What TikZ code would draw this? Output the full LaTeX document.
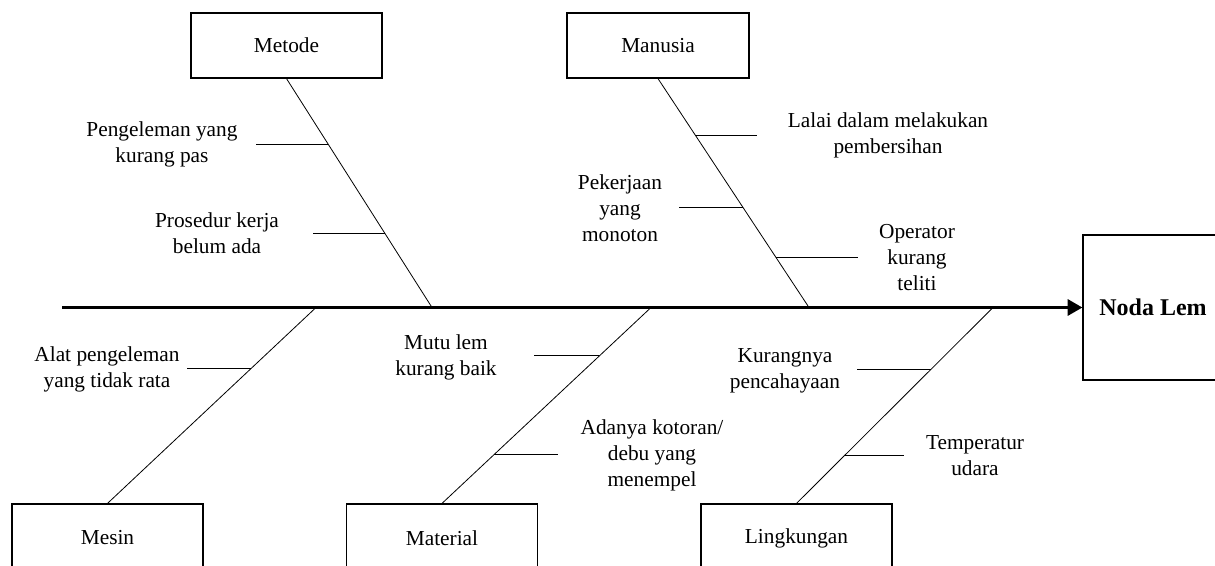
\documentclass[tikz,border=0pt]{standalone}
\usepackage{fontspec}
\setmainfont{Liberation Serif}
\usetikzlibrary{arrows.meta}

\begin{document}
\begin{tikzpicture}[x=0.75pt,y=0.75pt,yscale=-1,xscale=1,
        causebox/.style={draw, line width=0.9pt, minimum width=143.25pt, minimum height=48.75pt, inner sep=0pt, font=\fontsize{16}{19.5}\selectfont},
        note/.style={align=center, inner sep=0pt, font=\fontsize{16}{19.5}\selectfont},
        bone/.style={line width=0.6pt},
        twig/.style={line width=0.75pt}]
        \useasboundingbox (0,0) rectangle (1215,565); %page of 1215 x 565
        
        % Cause boxes
        \node [causebox] (metode) at (286.5,45.5) {Metode};
        \node [causebox, minimum width=136.5pt] (manusia) at (658,45.5) {Manusia};
        \node [causebox, minimum height=51pt] (mesin) at (107.5,538) {Mesin};
        \node [causebox, minimum height=51pt] (material) at (442,538) {Material};
        \node [causebox, minimum height=51pt] (lingkungan) at (796.5,538) {Lingkungan};
        % Effect box
        \node [draw, line width=0.9pt, minimum width=105pt, minimum height=108.75pt, font=\bfseries\fontsize{18}{22}\selectfont] (noda) at (1153,307.5) {Noda Lem};
        
        %Main line
        \coordinate (tail) at (62,307.5);
        \draw [line width=2.2pt, -{Triangle[length=11pt,width=12pt]}] (tail) -- (noda.west);
        
        % Spine ends on the main line
        \coordinate (jmet) at (432,307.5);
        \coordinate (jman) at (809,307.5);
        \coordinate (jmes) at (316,307.5);
        \coordinate (jmat) at (651,307.5);
        \coordinate (jlin) at (993,307.5);
        
        %Straight Lines
        \draw [bone] (metode.south) -- (jmet) coordinate[pos=0.288] (met1) coordinate[pos=0.675] (met2);
        \draw [bone] (manusia.south) -- (jman) coordinate[pos=0.248] (man1) coordinate[pos=0.562] (man2) coordinate[pos=0.78] (man3);
        \draw [bone] (mesin.north) -- (jmes) coordinate[pos=0.687] (mes1);
        \draw [bone] (material.north) -- (jmat) coordinate[pos=0.753] (mat1) coordinate[pos=0.249] (mat2);
        \draw [bone] (lingkungan.north) -- (jlin) coordinate[pos=0.682] (lin1) coordinate[pos=0.244] (lin2);
        
        %Sub causes
        \draw [twig] (met1) -- ++(-72,0) coordinate (met1e);
        \draw [twig] (met2) -- ++(-72,0) coordinate (met2e);
        \draw [twig] (man1) -- ++(62,0) coordinate (man1e);
        \draw [twig] (man2) -- ++(-64,0) coordinate (man2e);
        \draw [twig] (man3) -- ++(82,0) coordinate (man3e);
        \draw [twig] (mes1) -- ++(-64,0) coordinate (mes1e);
        \draw [twig] (mat1) -- ++(-65,0) coordinate (mat1e);
        \draw [twig] (mat2) -- ++(64,0) coordinate (mat2e);
        \draw [twig] (lin1) -- ++(-74,0) coordinate (lin1e);
        \draw [twig] (lin2) -- ++(60,0) coordinate (lin2e);
        
        % Text Node
        \node [note] (pengeleman) at (162,144) {Pengeleman yang\\kurang pas};
        % Text Node
        \node [note] (prosedur) at (217,233) {Prosedur kerja\\belum ada};
        % Text Node
        \node [note] (lalai) at (888,135) {Lalai dalam melakukan\\pembersihan};
        % Text Node
        \node [note] (pekerjaan) at (620,208) {Pekerjaan\\yang\\monoton};
        % Text Node
        \node [note] (operator) at (917,258) {Operator\\kurang\\teliti};
        % Text Node
        \node [note] (alat) at (107,369) {Alat pengeleman\\yang tidak rata};
        % Text Node
        \node [note] (mutu) at (446,357) {Mutu lem\\kurang baik};
        % Text Node
        \node [note] (adanya) at (652,455) {Adanya kotoran/\\debu yang\\menempel};
        % Text Node
        \node [note] (kurangnya) at (785,371) {Kurangnya\\pencahayaan};
        % Text Node
        \node [note] (temperatur) at (975,456) {Temperatur\\udara};
        
\end{tikzpicture}
\end{document}
